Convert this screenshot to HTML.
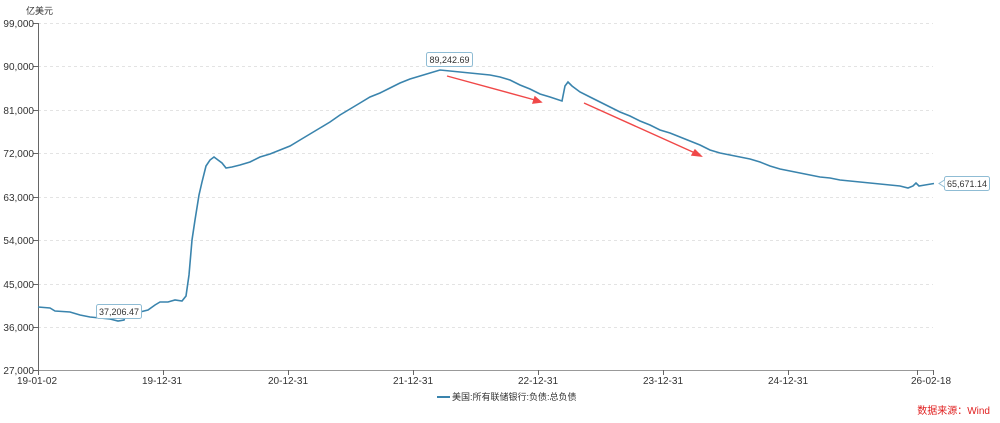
<!DOCTYPE html>
<html><head><meta charset="utf-8"><style>
body{margin:0;background:#fff;width:1000px;height:418px;overflow:hidden}
svg text{font-family:"Liberation Sans","Noto Sans CJK SC",sans-serif}
</style></head><body>
<svg width="1000" height="418" xmlns="http://www.w3.org/2000/svg">
<g stroke="#e3e3e3" stroke-dasharray="3,3" stroke-width="1">
<line x1="38" y1="23.5" x2="933" y2="23.5"/><line x1="38" y1="66.5" x2="933" y2="66.5"/>
<line x1="38" y1="110.5" x2="933" y2="110.5"/><line x1="38" y1="153.5" x2="933" y2="153.5"/>
<line x1="38" y1="197.5" x2="933" y2="197.5"/><line x1="38" y1="240.5" x2="933" y2="240.5"/>
<line x1="38" y1="284.5" x2="933" y2="284.5"/><line x1="38" y1="327.5" x2="933" y2="327.5"/>
</g>
<g stroke="#666" stroke-width="1" fill="none">
<line x1="38.5" y1="23" x2="38.5" y2="371"/>
<line x1="38" y1="370.5" x2="934" y2="370.5" stroke="#999"/>
<line x1="33" y1="23.5" x2="38" y2="23.5"/><line x1="33" y1="66.5" x2="38" y2="66.5"/>
<line x1="33" y1="110.5" x2="38" y2="110.5"/><line x1="33" y1="153.5" x2="38" y2="153.5"/>
<line x1="33" y1="197.5" x2="38" y2="197.5"/><line x1="33" y1="240.5" x2="38" y2="240.5"/>
<line x1="33" y1="284.5" x2="38" y2="284.5"/><line x1="33" y1="327.5" x2="38" y2="327.5"/>
<line x1="33" y1="370.5" x2="38" y2="370.5"/>
<line x1="38.5" y1="370" x2="38.5" y2="375"/><line x1="163.5" y1="370" x2="163.5" y2="375"/>
<line x1="288.5" y1="370" x2="288.5" y2="375"/><line x1="413.5" y1="370" x2="413.5" y2="375"/>
<line x1="538.5" y1="370" x2="538.5" y2="375"/><line x1="663.5" y1="370" x2="663.5" y2="375"/>
<line x1="788.5" y1="370" x2="788.5" y2="375"/><line x1="917.5" y1="370" x2="917.5" y2="375"/>
<line x1="933.5" y1="370" x2="933.5" y2="375"/>
</g>
<g font-size="10" fill="#333" text-anchor="end">
<text x="34" y="27">99,000</text><text x="34" y="70">90,000</text><text x="34" y="114">81,000</text>
<text x="34" y="157">72,000</text><text x="34" y="201">63,000</text><text x="34" y="244">54,000</text>
<text x="34" y="288">45,000</text><text x="34" y="331">36,000</text><text x="34" y="374">27,000</text>
</g>
<text x="26" y="14" font-size="9" fill="#333">亿美元</text>
<g font-size="10" fill="#333" text-anchor="middle">
<text x="37" y="384">19-01-02</text><text x="162" y="384">19-12-31</text><text x="288" y="384">20-12-31</text>
<text x="413" y="384">21-12-31</text><text x="538" y="384">22-12-31</text><text x="663" y="384">23-12-31</text>
<text x="788" y="384">24-12-31</text><text x="931" y="384">26-02-18</text>
</g>
<polyline fill="none" stroke="#3a84ad" stroke-width="1.6" points="38,307 50,308 55,311 70,312 80,315 90,317 100,318 110,319 118,321 124,320 125,317 132,315 140,312 148,310 155,305 160,302 168,302 175,300 182,301 186,296 189,275 192,240 195,220 199,195 202,182 206,166 210,160 214,157 218,160 222,163 226,168 232,167 240,165 250,162 260,157 270,154 280,150 290,146 300,140 310,134 320,128 330,122 340,115 350,109 360,103 370,97 380,93 390,88 400,83 410,79 420,76 430,73 440,70 450,71 460,72 470,73 480,74 490,75 500,77 510,80 520,85 530,89 540,94 550,97 562,101 565,86 568,82 572,86 580,92 590,97 600,102 610,107 620,112 630,116 640,121 650,125 660,130 670,133 680,137 690,141 700,145 710,150 720,153 730,155 740,157 750,159 760,162 770,166 780,169 790,171 800,173 810,175 820,177 830,178 840,180 850,181 860,182 870,183 880,184 890,185 900,186 908,188 913,186 916,183 919,186 925,185 934,183.5"/>
<g font-size="9" fill="#333">
<rect x="96.5" y="304.5" width="45" height="14" rx="2" fill="#fff" stroke="#8fbcd4"/>
<text x="119" y="315" text-anchor="middle">37,206.47</text>
<rect x="426.5" y="52.5" width="46" height="14" rx="2" fill="#fff" stroke="#8fbcd4"/>
<text x="449.5" y="63" text-anchor="middle">89,242.69</text>
<rect x="944.5" y="176.5" width="45" height="14" rx="2" fill="#fff" stroke="#8fbcd4"/>
<path d="M944.5,180 L939,183.5 L944.5,187" fill="#fff" stroke="#8fbcd4"/>
<text x="967" y="187" text-anchor="middle">65,671.14</text>
</g>
<g stroke="#f04848" stroke-width="1.4" fill="#f04848">
<line x1="447" y1="76" x2="535" y2="100"/><polygon points="541,102 533,103 535,97"/>
<line x1="584" y1="103" x2="695" y2="153"/><polygon points="701,156 692,155 695,150"/>
</g>
<line x1="437" y1="397" x2="450" y2="397" stroke="#3a84ad" stroke-width="2"/>
<text x="452" y="400" font-size="9" fill="#333">美国:所有联储银行:负债:总负债</text>
<text x="990" y="414" font-size="10" fill="#e02020" text-anchor="end">数据来源：Wind</text>
</svg>
</body></html>
